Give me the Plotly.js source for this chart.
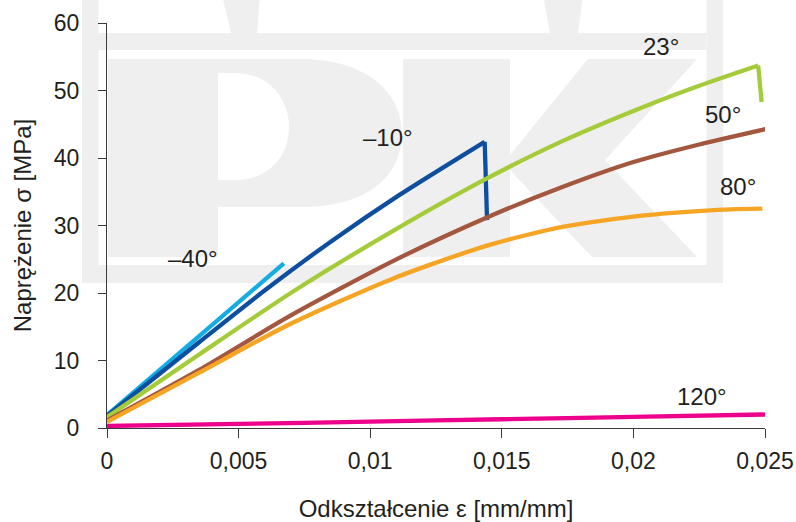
<!DOCTYPE html>
<html>
<head>
<meta charset="utf-8">
<script src="https://cdn.plot.ly/plotly-3.0.1.min.js"></script>
<style>html,body{margin:0;padding:0;background:#fff;}#chart{width:796px;height:522px;}</style>
</head>
<body>
<div id="chart"></div>
<script>
// ---- data (strain [mm/mm], stress [MPa]) ----
const seriesNames = ['–40°', '–10°', '23°', '50°', '80°', '120°'];

const xM40 = [0, 0.0035, 0.00672];
const yM40 = [1.9, 13.6, 24.4];

const xM10 = [0, 0.0035, 0.006, 0.0085, 0.0111, 0.01435, 0.01444];
const yM10 = [1.8, 12.7, 20.4, 27.6, 34.5, 42.4, 30.8];

const x23 = [0, 0.0035, 0.0071, 0.011, 0.0144, 0.0173, 0.0204, 0.0225, 0.02474, 0.02487];
const y23 = [1.6, 10.9, 20.3, 29.5, 36.9, 42.5, 47.6, 50.7, 53.7, 48.3];

const x50 = [0, 0.0035, 0.0069, 0.0109, 0.0145, 0.0173, 0.0200, 0.0225, 0.0251];
const y50 = [1.1, 8.6, 16.5, 24.8, 31.3, 35.7, 39.4, 42.0, 44.35];

const x80 = [0, 0.0035, 0.0069, 0.0109, 0.0145, 0.0173, 0.0204, 0.0237, 0.0249];
const y80 = [0.9, 8.2, 15.3, 22.2, 27.1, 29.8, 31.5, 32.4, 32.5];

const x120 = [0, 0.005, 0.01, 0.015, 0.02, 0.025];
const y120 = [0.3, 0.6, 0.95, 1.3, 1.65, 2.0];

const xTickVals = [0, 0.005, 0.01, 0.015, 0.02, 0.025];
const xTickText = ['0', '0,005', '0,01', '0,015', '0,02', '0,025'];
const yTickVals = [0, 10, 20, 30, 40, 50, 60];

// label anchor points for the series names
const labelX = [0.00325, 0.01067, 0.02105, 0.0234, 0.02397, 0.0226];
const labelY = [25.1, 43.1, 56.5, 46.5, 35.8, 4.7];

const colors = ['#14ACE3', '#0D4E9F', '#A4CC3A', '#A3573E', '#F6A424', '#EC008C'];

const xs = [xM40, xM10, x23, x50, x80, x120];
const ys = [yM40, yM10, y23, y50, y80, y120];

// smooth part of each curve as a spline; the final fracture drop (if any) as a straight segment
const hasDrop = [false, true, true, false, false, false];
const traces = [];
xs.forEach((x, i) => {
  const y = ys[i];
  const n = hasDrop[i] ? x.length - 1 : x.length;
  traces.push({
    x: x.slice(0, n), y: y.slice(0, n), type: 'scatter', mode: 'lines', name: seriesNames[i],
    line: {color: colors[i], width: 4.3, shape: 'spline', smoothing: 0.7}, hoverinfo: 'skip'
  });
  if (hasDrop[i]) {
    traces.push({
      x: x.slice(n - 1), y: y.slice(n - 1), type: 'scatter', mode: 'lines', name: seriesNames[i],
      line: {color: colors[i], width: 4.3}, hoverinfo: 'skip'
    });
  }
});

// ---- decorative watermark (logo) drawn in pixel space -> paper coords ----
const ML = 107, MR = 31, MT = 23, MB = 94, W = 796, H = 522;
const PW = W - ML - MR, PH = H - MT - MB;
const px = v => ((v - ML) / PW).toFixed(4);
const py = v => ((H - MB - v) / PH).toFixed(4);
function poly(pts) {
  return 'M' + pts.map(p => px(p[0]) + ',' + py(p[1])).join(' L') + ' Z';
}
function pathFrom(cmds) {
  return cmds.map(c => c[0] + c.slice(1).map((v, k) => k % 2 === 0 ? px(v) : py(v)).join(',')).join(' ');
}
const wm = '#EFEFEF';
const shp = (path, fill) => ({type: 'path', xref: 'paper', yref: 'paper', path: path,
  fillcolor: fill || wm, line: {width: 0}, layer: 'below'});
const shapes = [
  shp(poly([[82, -5], [98.5, -5], [98.5, 283], [82, 283]])),
  shp(poly([[706.5, -5], [723, -5], [723, 283], [706.5, 283]])),
  shp(poly([[82, 265], [723, 265], [723, 283], [82, 283]])),
  shp(poly([[98, 33], [706.5, 33], [706.5, 50], [98, 50]])),
  shp(poly([[222, -5], [260, -5], [257, 33], [231, 33]])),
  shp(poly([[543, -5], [583, -5], [578, 33], [550, 33]])),
  shp(pathFrom([['M', 108, 59], ['L', 300, 59], ['C', 370, 59, 402, 95, 402, 133],
    ['C', 402, 175, 370, 207, 300, 207], ['L', 218, 207], ['L', 218, 257], ['L', 108, 257], ['Z']])),
  shp(pathFrom([['M', 218, 73], ['L', 235, 73], ['C', 270, 73, 289, 100, 289, 127],
    ['C', 289, 155, 270, 180, 235, 180], ['L', 218, 180], ['Z']]), '#FFFFFF'),
  shp(poly([[403, 59], [510, 59], [510, 257], [403, 257]])),
  shp(poly([[510, 155], [588, 59], [697, 59], [605, 160], [697, 257], [592, 257], [510, 170]]))
];

const FONT = 'Liberation Sans, Arial, Helvetica, sans-serif';
const textColor = '#231F20';
const annotations = seriesNames.map((t, i) => ({
  x: labelX[i], y: labelY[i], xref: 'x', yref: 'y', text: t, showarrow: false,
  font: {family: FONT, size: 24, color: textColor}
}));

const layout = {
  width: W, height: H,
  margin: {l: ML, r: MR, t: MT, b: MB, pad: 0},
  paper_bgcolor: '#FFFFFF', plot_bgcolor: 'rgba(0,0,0,0)',
  showlegend: false,
  separators: ', ',
  font: {family: FONT, size: 23, color: textColor},
  xaxis: {
    range: [0, 0.025], tickvals: xTickVals, ticktext: xTickText,
    showgrid: false, zeroline: false, showline: true, linecolor: '#3a3a3a', linewidth: 1,
    ticks: 'outside', ticklen: 9, tickcolor: '#3a3a3a', tickwidth: 1,
    tickfont: {family: FONT, size: 23, color: textColor}, ticklabelstandoff: 3,
    automargin: false,
    title: {text: 'Odkształcenie ε [mm/mm]', font: {family: FONT, size: 24, color: textColor}, standoff: 32}
  },
  yaxis: {
    range: [0, 60], tickvals: yTickVals,
    showgrid: false, zeroline: false, showline: true, linecolor: '#3a3a3a', linewidth: 1,
    ticks: 'outside', ticklen: 8, tickcolor: '#3a3a3a', tickwidth: 1,
    tickfont: {family: FONT, size: 23, color: textColor}, ticklabelstandoff: 14,
    automargin: false,
    title: {text: 'Naprężenie σ [MPa]', font: {family: FONT, size: 24, color: textColor}, standoff: 15}
  },
  shapes: shapes,
  annotations: annotations
};

Plotly.newPlot('chart', traces, layout, {staticPlot: true, displayModeBar: false});
</script>
</body>
</html>
